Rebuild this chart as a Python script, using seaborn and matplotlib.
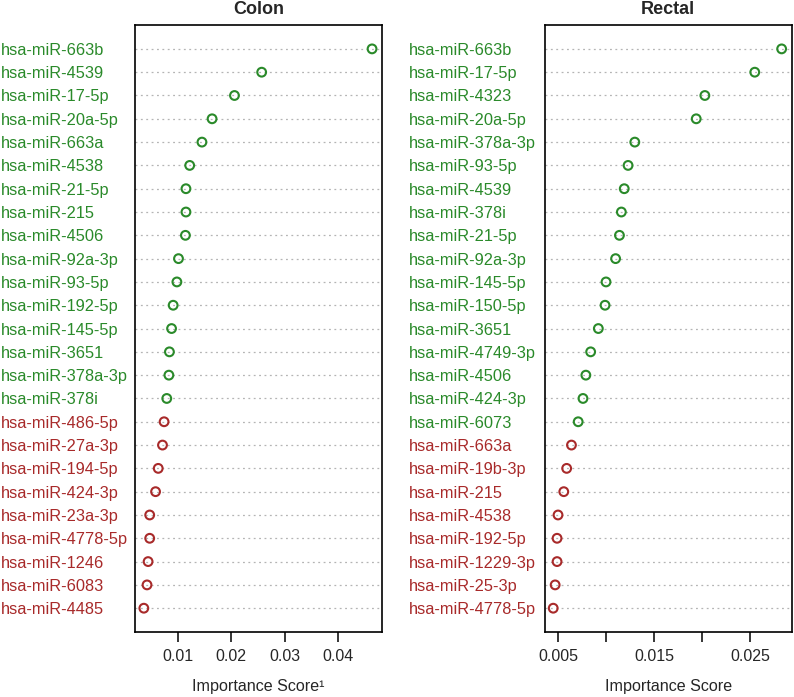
import numpy as np
import pandas as pd
import matplotlib
matplotlib.use("Agg")
import matplotlib.pyplot as plt
import seaborn as sns

# Colon panel data (top to bottom)
colon_mirs = ["hsa-miR-663b", "hsa-miR-4539", "hsa-miR-17-5p", "hsa-miR-20a-5p",
              "hsa-miR-663a", "hsa-miR-4538", "hsa-miR-21-5p", "hsa-miR-215",
              "hsa-miR-4506", "hsa-miR-92a-3p", "hsa-miR-93-5p", "hsa-miR-192-5p",
              "hsa-miR-145-5p", "hsa-miR-3651", "hsa-miR-378a-3p", "hsa-miR-378i",
              "hsa-miR-486-5p", "hsa-miR-27a-3p", "hsa-miR-194-5p", "hsa-miR-424-3p",
              "hsa-miR-23a-3p", "hsa-miR-4778-5p", "hsa-miR-1246", "hsa-miR-6083",
              "hsa-miR-4485"]
colon_scores = [0.0464, 0.0257, 0.0206, 0.0164, 0.0145, 0.0122, 0.0115, 0.0115,
                0.0114, 0.0101, 0.0098, 0.0091, 0.0088, 0.0084, 0.0083, 0.0079,
                0.0074, 0.0071, 0.0063, 0.0058, 0.0047, 0.0047, 0.0044, 0.0042,
                0.0036]
colon_group = ["up"] * 16 + ["down"] * 9

# Rectal panel data (top to bottom)
rectal_mirs = ["hsa-miR-663b", "hsa-miR-17-5p", "hsa-miR-4323", "hsa-miR-20a-5p",
               "hsa-miR-378a-3p", "hsa-miR-93-5p", "hsa-miR-4539", "hsa-miR-378i",
               "hsa-miR-21-5p", "hsa-miR-92a-3p", "hsa-miR-145-5p", "hsa-miR-150-5p",
               "hsa-miR-3651", "hsa-miR-4749-3p", "hsa-miR-4506", "hsa-miR-424-3p",
               "hsa-miR-6073", "hsa-miR-663a", "hsa-miR-19b-3p", "hsa-miR-215",
               "hsa-miR-4538", "hsa-miR-192-5p", "hsa-miR-1229-3p", "hsa-miR-25-3p",
               "hsa-miR-4778-5p"]
rectal_scores = [0.0283, 0.0255, 0.0203, 0.0194, 0.0130, 0.0123, 0.0119, 0.0116,
                 0.0114, 0.0110, 0.0100, 0.0099, 0.0092, 0.0084, 0.0079, 0.0076,
                 0.0071, 0.0064, 0.0059, 0.0056, 0.0050, 0.0049, 0.0049, 0.0047,
                 0.0045]
rectal_group = ["up"] * 17 + ["down"] * 8

colon_ticks = [0.01, 0.02, 0.03, 0.04]
colon_ticklabels = ["0.01", "0.02", "0.03", "0.04"]
rectal_ticks = [0.005, 0.01, 0.015, 0.02, 0.025]
rectal_ticklabels = ["0.005", "", "0.015", "", "0.025"]

GREEN = "#2A8A2A"
RED = "#A82A2A"
palette = {"up": GREEN, "down": RED}

sns.set_theme(style="white")
plt.rcParams["font.family"] = ["Liberation Sans", "DejaVu Sans"]

fig = plt.figure(figsize=(7.94, 6.97), dpi=100)
ax1 = fig.add_axes([0.170, 0.0933, 0.311, 0.871])
ax2 = fig.add_axes([0.686, 0.0933, 0.311, 0.871])

panels = [
    (ax1, colon_mirs, colon_scores, colon_group, "Colon", "Importance Score\u00b9",
     colon_ticks, colon_ticklabels, (0.00194, 0.04825), 96.5),
    (ax2, rectal_mirs, rectal_scores, rectal_group, "Rectal", "Importance Score",
     rectal_ticks, rectal_ticklabels, (0.00361, 0.02934), 97.9),
]

for ax, mirs, scores, group, title, xlabel, ticks, ticklabels, xlim, pad in panels:
    df = pd.DataFrame({"mir": mirs, "score": scores, "group": group})
    sns.stripplot(data=df, x="score", y="mir", hue="group", palette=palette,
                  jitter=False, size=6.3, legend=False, ax=ax, zorder=3)
    # hollow circles
    for coll in ax.collections:
        fc = coll.get_facecolors()
        coll.set_edgecolors(fc)
        coll.set_facecolors("none")
        coll.set_linewidths(1.5)

    ax.set_xlim(*xlim)
    ax.set_ylim(len(mirs) - 1 + 1.02, -1.03)
    ax.grid(axis="y", linestyle=(0, (1.5, 2.8)), color="#b4b4b4", linewidth=0.9)
    ax.grid(axis="x", visible=False)
    ax.set_axisbelow(True)

    ax.set_xticks(ticks)
    ax.set_xticklabels(ticklabels, fontsize=11.5)
    ax.tick_params(axis="x", direction="out", length=7, width=1.1, pad=5,
                   bottom=True, color="black")
    ax.set_yticks(range(len(mirs)))
    ax.set_yticklabels(mirs, fontsize=11.8, ha="left")
    ax.tick_params(axis="y", length=0, pad=pad)
    for lab, g in zip(ax.get_yticklabels(), group):
        lab.set_color(palette[g])

    for sp in ax.spines.values():
        sp.set_visible(True)
        sp.set_color("black")
        sp.set_linewidth(1.2)

    ax.set_ylabel("")
    ax.set_xlabel(xlabel, fontsize=11.6, labelpad=11)
    ax.set_title(title, fontsize=13, fontweight="bold", pad=7.5)

fig.savefig("out.png", dpi=100, facecolor="white")
